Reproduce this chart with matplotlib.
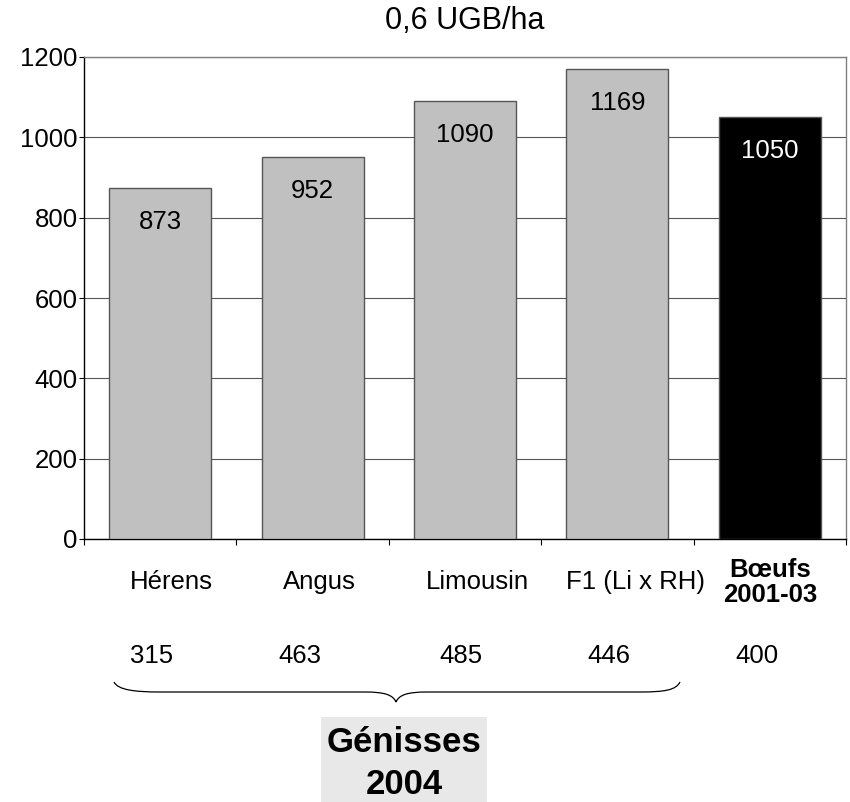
import matplotlib
matplotlib.use("Agg")
import matplotlib.pyplot as plt
from matplotlib.path import Path
from matplotlib.patches import PathPatch, Rectangle

plt.rcParams['font.family'] = ['Liberation Sans', 'DejaVu Sans']

categories = ["Hérens", "Angus", "Limousin", "F1 (Li x RH)", "Bœufs\n2001-03"]
values = [873, 952, 1090, 1169, 1050]
counts = ["315", "463", "485", "446", "400"]
bar_colors = ["#c0c0c0", "#c0c0c0", "#c0c0c0", "#c0c0c0", "#000000"]
label_colors = ["black", "black", "black", "black", "white"]
cat_bold = [False, False, False, False, True]
yticks = [0, 200, 400, 600, 800, 1000, 1200]
title = "0,6 UGB/ha"
group_label = ["Génisses", "2004"]

W, H = 850, 802
fig = plt.figure(figsize=(W / 100, H / 100), dpi=100)
ax = fig.add_axes([84 / W, 1 - 539 / H, (846 - 84) / W, (539 - 57) / H])

x = list(range(len(values)))
ax.bar(x, values, width=0.67, color=bar_colors, edgecolor="#555555",
       linewidth=1.0, zorder=3)
ax.set_xlim(-0.5, len(values) - 0.5)
ax.set_ylim(0, 1200)
ax.set_yticks(yticks)
ax.set_yticklabels([str(v) for v in yticks], fontsize=18.5)
ax.tick_params(axis='y', length=3.5, width=0.8, pad=1)
ax.set_xticks([])
ax.set_xticks([i - 0.5 for i in range(len(values) + 1)], minor=True)
ax.tick_params(axis='x', which='minor', length=4.5, width=0.8, direction='out')
ax.grid(axis='y', color='#555555', linewidth=0.8, zorder=0)
ax.set_axisbelow(True)
for s in ['left', 'bottom']:
    ax.spines[s].set_color('black')
    ax.spines[s].set_linewidth(1.0)
for s in ['top', 'right']:
    ax.spines[s].set_color('#808080')
    ax.spines[s].set_linewidth(1.0)

# value labels inside the bars
for xi, v, c in zip(x, values, label_colors):
    ax.annotate(str(v), xy=(xi, v), xytext=(0, -24.5), textcoords='offset points',
                ha='center', va='center', fontsize=18.5, color=c, zorder=4)

# category labels and counts
lab_off = [8, 5, 9, 13, 0]
cnt_off = [-6.5, -9.5, -3, -6, -9.5]
for xi, cat, b, lo, co, n in zip(x, categories, cat_bold, lab_off, cnt_off, counts):
    ax.annotate(cat, xy=(xi, 0), xytext=(lo, -31), textcoords='offset points',
                ha='center', va='center', fontsize=18.5 if not b else 18.5,
                fontweight='bold' if b else 'normal', linespacing=1.05,
                annotation_clip=False)
    ax.annotate(n, xy=(xi, 0), xytext=(co, -84), textcoords='offset points',
                ha='center', va='center', fontsize=18.5, annotation_clip=False)

# title
fig.text(465 / W, 1 - 21 / H, title, ha='center', va='center', fontsize=22)

# brace
def P(px, py):
    return (px / W, 1 - py / H)

verts = [P(114, 682), P(118, 690), P(135, 692), P(160, 692),
         P(365, 692),
         P(385, 692), P(393, 695), P(396, 702),
         P(399, 695), P(407, 692), P(427, 692),
         P(640, 692),
         P(665, 692), P(676, 690), P(680, 682)]
codes = [Path.MOVETO, Path.CURVE4, Path.CURVE4, Path.CURVE4,
         Path.LINETO,
         Path.CURVE4, Path.CURVE4, Path.CURVE4,
         Path.CURVE4, Path.CURVE4, Path.CURVE4,
         Path.LINETO,
         Path.CURVE4, Path.CURVE4, Path.CURVE4]
fig.patches.append(PathPatch(Path(verts, codes), transform=fig.transFigure,
                             facecolor='none', edgecolor='black', linewidth=0.9))

# group box
x0, y0 = P(321, 802)
fig.patches.append(Rectangle((x0, y0), (487 - 321) / W, (802 - 717) / H,
                             transform=fig.transFigure, facecolor='#e8e8e8',
                             edgecolor='none'))
fig.text(404 / W, 1 - 742 / H, group_label[0], ha='center', va='center',
         fontsize=25, fontweight='bold')
fig.text(404 / W, 1 - 785 / H, group_label[1], ha='center', va='center',
         fontsize=25, fontweight='bold')

fig.savefig("out.png", dpi=100)
